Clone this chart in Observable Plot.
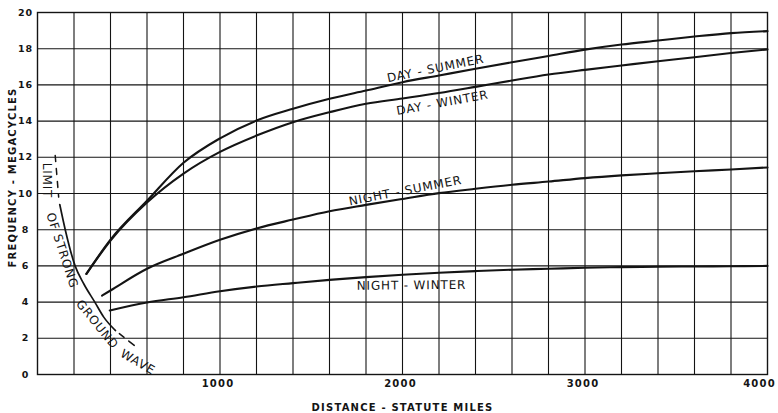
<!DOCTYPE html>
<html>
<head>
<meta charset="utf-8">
<script src="https://cdn.jsdelivr.net/npm/d3@7"></script>
<script src="https://cdn.jsdelivr.net/npm/@observablehq/plot@0.6"></script>
<style>
  html, body { margin: 0; padding: 0; background: #fff; }
  #chart svg text { letter-spacing: 0.12em; }
  #chart svg g[font-size="12"] text { letter-spacing: 0.07em; }
  #chart svg g[font-size="9.5"] text { letter-spacing: 0.1em; }
</style>
</head>
<body>
<div id="chart"></div>
<script>
// Usable frequency vs. distance, statute miles -> megacycles
const daySummerMiles = [268, 400, 600, 800, 1000, 1200, 1400, 1600, 1800, 2000, 2200, 2400, 2600, 2800, 3000, 3200, 3400, 3600, 3800, 4000];
const daySummerMc    = [5.56, 7.45, 9.6, 11.7, 13.05, 14.03, 14.68, 15.23, 15.69, 16.15, 16.52, 16.89, 17.25, 17.6, 17.95, 18.23, 18.45, 18.67, 18.86, 18.97];

const dayWinterMiles = [268, 400, 600, 800, 1000, 1200, 1400, 1600, 1800, 2000, 2200, 2400, 2600, 2800, 3000, 3200, 3400, 3600, 3800, 4000];
const dayWinterMc    = [5.56, 7.4, 9.5, 11.1, 12.3, 13.2, 13.94, 14.49, 14.96, 15.25, 15.55, 15.89, 16.24, 16.57, 16.83, 17.07, 17.31, 17.53, 17.76, 17.96];

const nightSummerMiles = [354, 400, 600, 800, 1000, 1200, 1400, 1600, 1800, 2000, 2200, 2400, 2600, 2800, 3000, 3200, 3400, 3600, 3800, 4000];
const nightSummerMc    = [4.36, 4.64, 5.84, 6.67, 7.44, 8.07, 8.56, 9.02, 9.37, 9.7, 10.02, 10.26, 10.48, 10.66, 10.85, 11.0, 11.12, 11.23, 11.33, 11.44];

const nightWinterMiles = [396, 600, 800, 1000, 1200, 1400, 1600, 1800, 2000, 2200, 2400, 2600, 2800, 3000, 3200, 3400, 3600, 3800, 4000];
const nightWinterMc    = [3.54, 3.98, 4.27, 4.6, 4.86, 5.05, 5.23, 5.38, 5.51, 5.62, 5.71, 5.79, 5.84, 5.9, 5.93, 5.95, 5.97, 5.98, 6.0];

// Limit of strong ground wave: solid middle, dashed ends
const groundWaveMiles = [122, 152, 206, 254, 314, 363, 427];
const groundWaveMc    = [9.39, 8.0, 6.0, 5.0, 4.0, 3.17, 2.43];
const groundUpperMiles = [97, 116];
const groundUpperMc    = [12.1, 9.8];
const groundLowerMiles = [427, 550];
const groundLowerMc    = [2.43, 1.45];

// Curve captions
const curveLabels = ["DAY - SUMMER", "DAY - WINTER", "NIGHT - SUMMER", "NIGHT - WINTER"];
const curveLabelMiles = [2181, 2219, 2016, 2049];
const curveLabelMc    = [16.9, 15.0, 10.15, 4.92];
const curveLabelAngle = [-11.5, -10.3, -10.9, -0.5];

const groundLabels = ["LIMIT", "OF STRONG", "GROUND", "WAVE"];
const groundLabelMiles = [53, 135, 327, 550];
const groundLabelMc    = [10.72, 6.85, 2.76, 0.68];
const groundLabelAngle = [90, 72, 51, 30];

// Axes
const xTicks = [1000, 2000, 3000];
const xTickLast = [4000];
const yTicks = [0, 2, 4, 6, 8, 10, 12, 14, 16, 18, 20];
const xGrid = d3.range(200, 4000, 200);
const yGrid = d3.range(2, 20, 2);
const xTitle = "DISTANCE - STATUTE MILES";
const yTitle = "FREQUENCY - MEGACYCLES";

const rows = (miles, mc, series) => miles.map((m, i) => ({miles: m, mc: mc[i], series}));
const curves = [
  ...rows(daySummerMiles, daySummerMc, "day-summer"),
  ...rows(dayWinterMiles, dayWinterMc, "day-winter"),
  ...rows(nightSummerMiles, nightSummerMc, "night-summer"),
  ...rows(nightWinterMiles, nightWinterMc, "night-winter")
];
const labelRows = (t, m, f, a) => t.map((text, i) => ({text, miles: m[i], mc: f[i], angle: a[i]}));

const ink = "#141414";
const xTickStyle = {tickSize: 0, tickPadding: 5, fontSize: 10, fontWeight: "bold", tickFormat: d => String(d), label: null};

const chart = Plot.plot({
  width: 778,
  height: 413,
  marginLeft: 37,
  marginRight: 11,
  marginTop: 12,
  marginBottom: 39,
  style: {fontFamily: "'DejaVu Sans', sans-serif", color: ink, background: "#fff"},
  x: {domain: [0, 4000], label: null},
  y: {domain: [0, 20], label: null},
  marks: [
    Plot.ruleX(xGrid, {stroke: ink, strokeWidth: 1.1}),
    Plot.ruleY(yGrid, {stroke: ink, strokeWidth: 1.1}),
    Plot.frame({stroke: ink, strokeWidth: 1.4}),
    Plot.axisX(xTicks, {...xTickStyle, dx: -2}),
    Plot.axisX(xTickLast, {...xTickStyle, dx: -8}),
    Plot.axisY(yTicks, {tickSize: 0, tickPadding: 12, textAnchor: "middle", fontSize: 9.5, fontWeight: "bold", tickFormat: d => String(d), label: null}),
    Plot.text([xTitle], {frameAnchor: "bottom", dy: 36, fontSize: 10, fontWeight: "bold"}),
    Plot.text([yTitle], {frameAnchor: "left", textAnchor: "middle", dx: -25, dy: -16, rotate: -90, fontSize: 10, fontWeight: "bold"}),
    Plot.line(curves, {x: "miles", y: "mc", z: "series", curve: "monotone-x", stroke: ink, strokeWidth: 2.1}),
    Plot.line(rows(groundWaveMiles, groundWaveMc, "ground"), {x: "miles", y: "mc", curve: "monotone-x", stroke: ink, strokeWidth: 1.7}),
    Plot.line(rows(groundUpperMiles, groundUpperMc, "ground-upper"), {x: "miles", y: "mc", stroke: ink, strokeWidth: 1.5, strokeDasharray: "6,7"}),
    Plot.line(rows(groundLowerMiles, groundLowerMc, "ground-lower"), {x: "miles", y: "mc", stroke: ink, strokeWidth: 1.5, strokeDasharray: "0,5,6,6,7,100"}),
    Plot.text(labelRows(curveLabels, curveLabelMiles, curveLabelMc, curveLabelAngle), {x: "miles", y: "mc", text: "text", rotate: "angle", fontSize: 12, fill: ink}),
    Plot.text(labelRows(groundLabels, groundLabelMiles, groundLabelMc, groundLabelAngle), {x: "miles", y: "mc", text: "text", rotate: "angle", fontSize: 12, fill: ink})
  ]
});

document.getElementById("chart").appendChild(chart);
</script>
</body>
</html>
